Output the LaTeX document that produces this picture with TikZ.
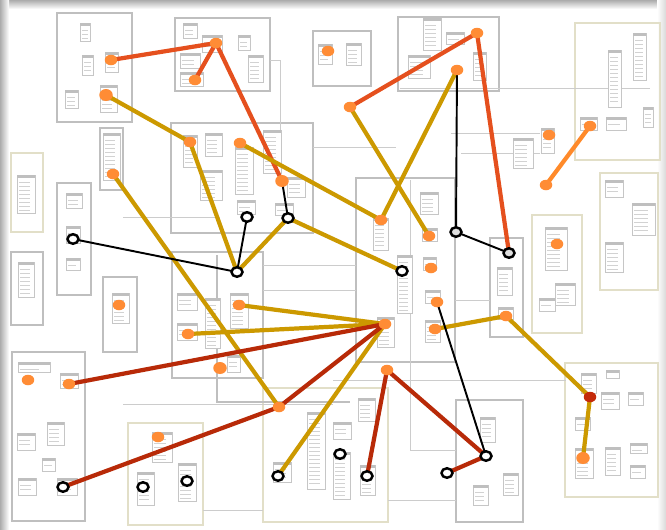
\documentclass[tikz,border=0pt]{standalone}
\usepackage{xcolor}
\usepackage{tikz}
\usetikzlibrary{shapes.geometric}

\definecolor{rust}{HTML}{E5501E}
\definecolor{amber}{HTML}{FF8A2A}
\definecolor{mustard}{HTML}{CC9900}
\definecolor{brick}{HTML}{B82A08}
\definecolor{dotfill}{HTML}{FF8C35}
\definecolor{dotred}{HTML}{C42A0A}
\definecolor{beige}{HTML}{E2DFC8}

\pgfdeclarelayer{bg}
\pgfdeclarelayer{wires}
\pgfsetlayers{bg,wires,main}

\newcommand{\schemabox}[4]{%
  \draw[tblbox] (#1,#2) rectangle ++(#3,#4);
  \fill[gray!50] (#1,#2) rectangle ++(#3,3);
  \pgfmathtruncatemacro{\rows}{(#4-6)/4}
  \ifnum\rows>0
    \foreach \k in {1,...,\rows}{\draw[gray!35, line width=0.5pt] (#1+2,#2+3+4*\k) -- ++(#3*0.6,0);}
  \fi}

\begin{document}
\begin{tikzpicture}[x=0.02cm, y=-0.02cm,
    dot/.style={ellipse, fill=dotfill, minimum width=0.25cm, minimum height=0.21cm, inner sep=0pt},
    reddot/.style={dot, fill=dotred},
    ring/.style={ellipse, draw=black, line width=1.4pt, fill=white, minimum width=0.22cm, minimum height=0.19cm, inner sep=0pt},
    greyring/.style={ring, fill=gray!25},
    link/.style={line width=2.4pt},
    wire/.style={draw=black, line width=1.1pt},
    group/.style={draw=gray!50, line width=0.6pt},
    palegroup/.style={draw=beige, line width=0.8pt},
    tblbox/.style={draw=gray!45, fill=white, line width=0.4pt},
    trace/.style={draw=gray!40, line width=0.5pt}
]
    \useasboundingbox (0,0) rectangle (666,529);

    \begin{pgfonlayer}{bg}
    \fill[white] (0,0) rectangle (666,529);
    % frame shadow
    \shade[top color=gray!65, bottom color=white] (0,0) rectangle (666,9);
    \shade[left color=gray!65, right color=white] (0,0) rectangle (9,529);
    \shade[left color=white, right color=gray!30] (657,0) rectangle (666,529);

    % schema groups
    \draw[group] (57,13) rectangle (132,122);
    \draw[group] (175,18) rectangle (270,91);
    \draw[group] (313,31) rectangle (371,86);
    \draw[group] (171,123) rectangle (313,233);
    \draw[group] (100,128) rectangle (123,190);
    \draw[palegroup] (11,153) rectangle (43,232);
    \draw[group] (57,183) rectangle (91,295);
    \draw[group] (11,252) rectangle (43,325);
    \draw[group] (398,17) rectangle (499,91);
    \draw[palegroup] (575,23) rectangle (660,160);
    \draw[palegroup] (600,173) rectangle (658,290);
    \draw[palegroup] (532,215) rectangle (582,333);
    \draw[group] (356,178) rectangle (455,362);
    \draw[group] (490,238) rectangle (523,337);
    \draw[palegroup] (565,363) rectangle (658,497);
    \draw[group] (456,400) rectangle (523,522);
    \draw[group] (12,352) rectangle (85,521);
    \draw[palegroup] (128,423) rectangle (203,525);
    \draw[palegroup] (263,388) rectangle (388,522);
    \draw[group] (103,277) rectangle (137,352);
    \draw[group] (172,252) rectangle (263,378);
    \draw[group] (217,255) -- (217,402) -- (350,402);

    % relation traces
    \draw[trace] (400,88) -- (650,88);
    \draw[trace] (333,147) -- (396,147);
    \draw[trace] (451,133) -- (540,133);
    \draw[trace] (461,153) -- (540,153);
    \draw[trace] (313,147) -- (333,147);
    \draw[trace] (123,217) -- (220,217);
    \draw[trace] (333,380) -- (566,380);
    \draw[trace] (123,404) -- (333,404);
    \draw[trace] (410,180) -- (410,450) -- (456,450);
    \draw[trace] (270,60) -- (280,60) -- (280,130);
    \draw[trace] (263,265) -- (356,265);
    \draw[trace] (263,290) -- (356,290);
    \draw[trace] (455,300) -- (490,300);
    \draw[trace] (388,500) -- (456,500);
    \draw[trace] (203,510) -- (263,510);

    % tables
    \foreach \x/\y/\w/\h in {80/23/10/18, 82/55/11/20, 105/52/13/20, 65/90/13/18, 100/85/17/27,
        183/23/14/15, 202/35/20/17, 238/35/12/15, 180/53/20/15, 180/72/23/14, 248/55/15/27,
        318/44/14/20, 346/43/15/22,
        183/135/14/32, 205/133/17/23, 235/147/18/47, 263/130/18/43, 287/177/18/20,
        200/170/22/30, 237/200/18/14, 275/203/18/12,
        103/133/17/47, 17/175/18/38, 66/193/16/15, 66/226/14/17, 66/258/14/12, 18/262/16/35,
        423/18/18/32, 446/32/18/12, 408/55/22/23, 473/52/13/28,
        633/33/13/47, 608/50/13/57, 580/117/17/13, 606/117/20/13, 643/107/10/20,
        513/138/20/30, 541/128/13/25,
        605/180/18/17, 632/203/23/32, 605/242/18/30,
        545/227/22/43, 555/283/20/22, 539/298/16/13,
        497/267/15/28, 498/307/15/12,
        373/218/15/32, 420/192/18/22, 422/228/15/13, 423/257/13/13, 397/255/15/58,
        425/290/15/13, 425/320/15/22, 377/317/17/30,
        581/373/15/20, 601/392/18/17, 628/392/15/13, 606/370/13/8, 575/417/15/13,
        575/448/18/30, 605/447/15/28, 630/443/17/10, 630/465/15/13,
        480/417/15/25, 503/473/15/22, 473/485/15/20,
        358/398/17/23, 333/422/18/17, 333/452/17/47, 360/465/15/30, 307/412/18/77, 273/462/18/20,
        152/432/20/30, 137/472/17/33, 178/463/18/38,
        18/362/32/10, 17/433/18/17, 42/458/13/13, 47/422/17/23, 18/478/18/17, 60/373/18/15, 57/478/20/17,
        112/293/17/30, 177/293/20/17, 177/323/20/17, 230/293/18/35, 227/355/13/17, 205/298/15/50}
        {\schemabox{\x}{\y}{\w}{\h}}
    \end{pgfonlayer}

    % orange markers
    \node[dot] (a1) at (111,60) {};
    \node[dot] (a2) at (216,43) {};
    \node[dot] (a3) at (195,80) {};
    \node[dot, minimum width=0.27cm, minimum height=0.24cm] (a4) at (106,95) {};
    \node[dot] (a5) at (190,142) {};
    \node[dot] (a6) at (240,143) {};
    \node[dot] (a7) at (113,174) {};
    \node[dot, minimum width=0.27cm, minimum height=0.24cm] (a8) at (282,181) {};
    \node[dot] (a9) at (328,51) {};
    \node[dot] (b1) at (477,33) {};
    \node[dot] (b2) at (457,70) {};
    \node[dot] (b3) at (350,107) {};
    \node[dot] (b4) at (549,135) {};
    \node[dot] (b5) at (590,126) {};
    \node[dot] (b6) at (546,185) {};
    \node[dot] (b7) at (381,220) {};
    \node[dot] (b8) at (429,236) {};
    \node[dot] (b9) at (557,244) {};
    \node[dot] (b10) at (431,268) {};
    \node[dot] (hub) at (385,324) {};
    \node[dot] (c1) at (239,305) {};
    \node[dot] (c2) at (188,334) {};
    \node[dot] (c3) at (119,305) {};
    \node[dot, minimum width=0.27cm, minimum height=0.24cm] (c4) at (220,368) {};
    \node[dot] (c5) at (28,380) {};
    \node[dot] (c6) at (69,384) {};
    \node[dot] (c7) at (279,407) {};
    \node[dot] (c8) at (158,437) {};
    \node[dot] (d1) at (437,302) {};
    \node[dot] (d2) at (435,329) {};
    \node[dot] (d3) at (506,316) {};
    \node[dot] (d4) at (387,370) {};
    \node[reddot] (d5) at (590,397) {};
    \node[dot, minimum width=0.27cm, minimum height=0.24cm] (d6) at (583,458) {};

    % open markers
    \node[ring] (r1) at (247,217) {};
    \node[ring] (r2) at (288,218) {};
    \node[ring] (r3) at (73,239) {};
    \node[ring] (r4) at (237,272) {};
    \node[ring] (r5) at (402,271) {};
    \node[greyring] (r6) at (456,232) {};
    \node[greyring] (r7) at (509,253) {};
    \node[ring] (r8) at (63,487) {};
    \node[ring] (r9) at (143,487) {};
    \node[ring] (r10) at (187,481) {};
    \node[ring] (r11) at (278,476) {};
    \node[ring] (r12) at (340,454) {};
    \node[ring] (r13) at (367,476) {};
    \node[ring] (r14) at (447,473) {};
    \node[ring] (r15) at (486,456) {};

    \begin{pgfonlayer}{wires}
    \draw[link, rust] (a1.center) -- (a2.center);
    \draw[link, rust] (a2.center) -- (a3.center);
    \draw[link, rust] (a2.center) -- (a8.center);
    \draw[link, rust] (b1.center) -- (b3.center);
    \draw[link, rust] (b1.center) -- (r7.center);
    \draw[link, amber] (b5.center) -- (b6.center);

    \draw[link, mustard] (a4.center) -- (a5.center);
    \draw[link, mustard] (a5.center) -- (r4.center);
    \draw[link, mustard] (a6.center) -- (b7.center);
    \draw[link, mustard] (a7.center) -- (c7.center);
    \draw[link, mustard] (r2.center) -- (r4.center);
    \draw[link, mustard] (r2.center) -- (r5.center);
    \draw[link, mustard] (b3.center) -- (b8.center);
    \draw[link, mustard] (b2.center) -- (b7.center);
    \draw[link, mustard] (c1.center) -- (hub.center);
    \draw[link, mustard] (c2.center) -- (hub.center);
    \draw[link, mustard] (hub.center) -- (r11.center);
    \draw[link, mustard] (d2.center) -- (d3.center);
    \draw[link, mustard] (d3.center) -- (d5.center);
    \draw[link, mustard] (d5.center) -- (d6.center);

    \draw[link, brick] (c6.center) -- (hub.center);
    \draw[link, brick] (r8.center) -- (c7.center);
    \draw[link, brick] (c7.center) -- (hub.center);
    \draw[link, brick] (d4.center) -- (r13.center);
    \draw[link, brick] (d4.center) -- (r15.center);
    \draw[link, brick] (r15.center) -- (r14.center);

    \draw[wire] (a8.center) -- (r2.center);
    \draw[wire] (r1.center) -- (r4.center);
    \draw[wire] (r3.center) -- (r4.center);
    \draw[wire] (b2.center) -- (r6.center);
    \draw[wire] (r6.center) -- (r7.center);
    \draw[wire] (d1.center) -- (r15.center);
    \end{pgfonlayer}
\end{tikzpicture}
\end{document}
